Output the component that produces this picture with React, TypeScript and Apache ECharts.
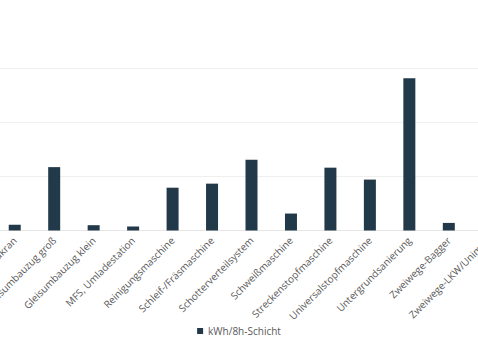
import React, { useEffect, useRef } from "react";
import * as echarts from "echarts";

const categories: string[] = [
  "Gleisbaukran",
  "Gleisumbauzug groß",
  "Gleisumbauzug klein",
  "MFS, Umladestation",
  "Reinigungsmaschine",
  "Schleif-/Fräsmaschine",
  "Schotterverteilsystem",
  "Schweißmaschine",
  "Streckenstopfmaschine",
  "Universalstopfmaschine",
  "Untergrundsanierung",
  "Zweiwege-Bagger",
  "Zweiwege-LKW/Unimog",
];

const seriesName = "kWh/8h-Schicht";
const values: number[] = [105, 1170, 98, 74, 790, 865, 1305, 313, 1160, 940, 2810, 140, 120];

const yMin = 0;
const yMax = 3000;
const yInterval = 1000;

export default function App() {
  const ref = useRef<HTMLDivElement>(null);
  useEffect(() => {
    if (!ref.current) return;
    const chart = echarts.init(ref.current, undefined, { renderer: "svg" });
    const font = "'Open Sans', 'Noto Sans', sans-serif";
    chart.setOption({
      animation: false,
      backgroundColor: "#ffffff",
      textStyle: { fontFamily: font },
      legend: {
        data: [seriesName],
        left: "center",
        top: 321,
        icon: "rect",
        itemWidth: 6,
        itemHeight: 6,
        itemGap: 10,
        textStyle: { fontFamily: font, fontSize: 10, color: "#595959" },
      },
      grid: {
        left: -5,
        right: -30,
        top: 68,
        bottom: 128.5,
        containLabel: false,
        outerBoundsMode: "none",
      },
      xAxis: {
        type: "category",
        data: categories,
        axisTick: { show: false },
        axisLine: { show: true, lineStyle: { color: "#e6e6e6", width: 1 } },
        axisLabel: {
          interval: 0,
          rotate: 45,
          margin: 8,
          fontFamily: font,
          fontSize: 10,
          color: "#595959",
        },
      },
      yAxis: {
        type: "value",
        min: yMin,
        max: yMax,
        interval: yInterval,
        axisLabel: { show: false },
        axisLine: { show: false },
        axisTick: { show: false },
        splitLine: { lineStyle: { color: "#efefef", width: 1 } },
      },
      series: [
        {
          name: seriesName,
          type: "bar",
          data: values,
          barWidth: 12,
          itemStyle: { color: "#22394a" },
        },
      ],
    });
    return () => chart.dispose();
  }, []);
  return (
    <div
      ref={ref}
      style={{ position: "fixed", left: 0, top: 0, width: 478, height: 359, overflow: "hidden" }}
    />
  );
}
